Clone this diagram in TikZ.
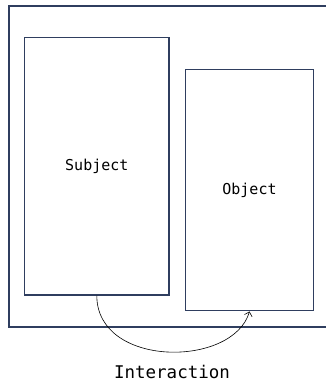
\documentclass[tikz,border=0pt]{standalone}
\usepackage{fontspec}
\setmonofont{DejaVu Sans Mono}
\usetikzlibrary{arrows.meta}
\definecolor{navy}{RGB}{47,62,95}
\begin{document}
\begin{tikzpicture}[x=1pt,y=-1pt,
  box/.style={draw=navy,line width=1.5pt,fill=white,inner sep=0pt,font=\ttfamily\fontsize{15}{18}\selectfont},
  link/.style={draw=black,line width=0.6pt,-{Straight Barb[length=4pt,width=8pt]}}]
\clip (0,0) rectangle (326,384);
\node[draw=navy,line width=1.7pt,minimum width=340pt,minimum height=321pt,inner sep=0pt,anchor=north west] (frame) at (8,5) {};
\node[box,minimum width=144.3pt,minimum height=257.3pt] (subj) at (96.8,166.3) {Subject};
\node[box,minimum width=128.4pt,minimum height=241pt] (obj) at (249.5,190.2) {Object};
\draw[link] (subj.south) .. controls (97,368) and (233,368) .. (obj.south);
\node[font=\ttfamily\fontsize{17.5}{20}\selectfont,inner sep=0pt] (lab) at (172,372) {Interaction};
\end{tikzpicture}
\end{document}
